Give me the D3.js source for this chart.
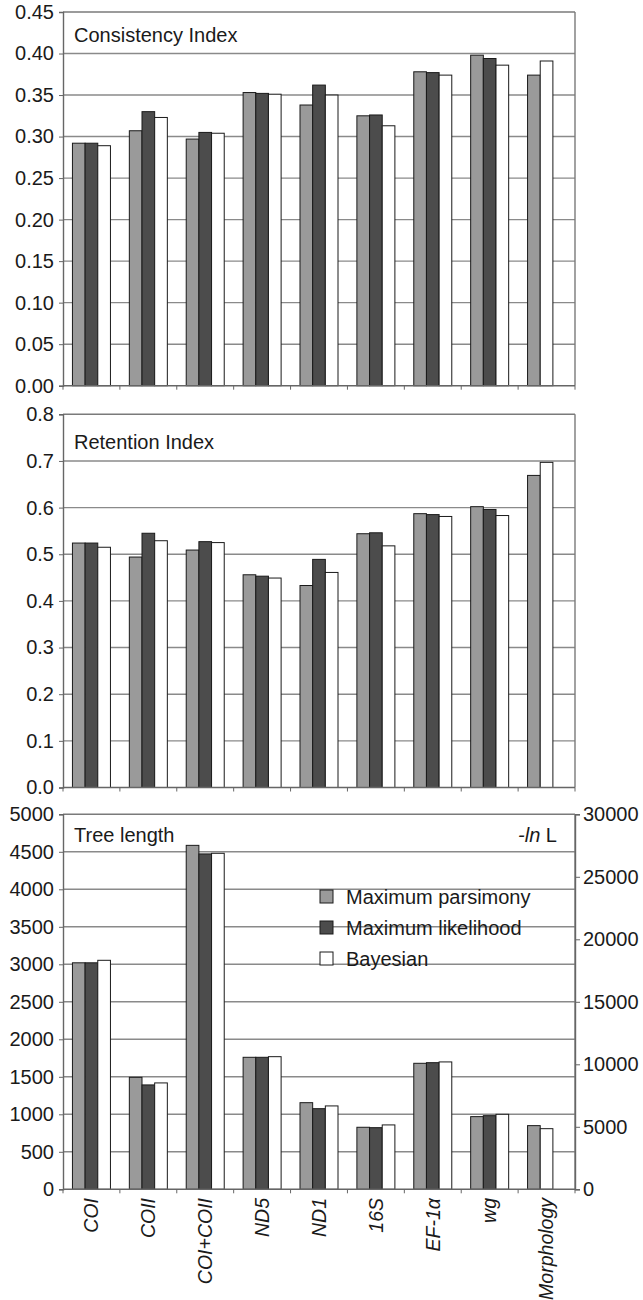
<!DOCTYPE html>
<html>
<head>
<meta charset="utf-8">
<script src="https://cdn.jsdelivr.net/npm/d3@7"></script>
<style>
  body { margin: 0; background: #fff; }
  svg { display: block; font-family: "Liberation Sans", Arial, sans-serif; }
</style>
</head>
<body>
<svg id="chart" width="643" height="1300"></svg>
<script>
// ---------- DATA ----------
const categories = ["COI", "COII", "COI+COII", "ND5", "ND1", "16S", "EF-1\u03b1", "wg", "Morphology"];
const seriesNames = ["Maximum parsimony", "Maximum likelihood", "Bayesian"];

// Consistency Index
const ciMP    = [0.292, 0.307, 0.297, 0.353, 0.338, 0.325, 0.378, 0.398, 0.374];
const ciML    = [0.292, 0.330, 0.305, 0.352, 0.362, 0.326, 0.377, 0.394, null];
const ciBayes = [0.289, 0.323, 0.304, 0.351, 0.350, 0.313, 0.374, 0.386, 0.391];

// Retention Index
const riMP    = [0.524, 0.494, 0.509, 0.456, 0.433, 0.544, 0.587, 0.602, 0.669];
const riML    = [0.524, 0.545, 0.527, 0.453, 0.489, 0.546, 0.585, 0.596, null];
const riBayes = [0.515, 0.529, 0.525, 0.449, 0.461, 0.518, 0.581, 0.583, 0.697];

// Tree length (MP, left axis) and -ln L (ML, Bayesian, right axis)
const tlMP    = [3020, 1493, 4586, 1760, 1155, 827, 1680, 969, 849];
const lnlML   = [18120, 8350, 26830, 10560, 6450, 4930, 10130, 5890, null];
const lnlBayes= [18320, 8510, 26880, 10610, 6670, 5150, 10190, 6000, 4850];

const ciTicks = [0, 0.05, 0.10, 0.15, 0.20, 0.25, 0.30, 0.35, 0.40, 0.45];
const riTicks = [0, 0.1, 0.2, 0.3, 0.4, 0.5, 0.6, 0.7, 0.8];
const tlTicks = [0, 500, 1000, 1500, 2000, 2500, 3000, 3500, 4000, 4500, 5000];
const lnlTicks = [0, 5000, 10000, 15000, 20000, 25000, 30000];

// ---------- STYLE ----------
const fills = ["#9a9a9a", "#4c4c4c", "#ffffff"];
const gridColor = "#8a8a8a";
const frameColor = "#7a7a7a";
const axisColor = "#666";
const fontSize = 20;

const svg = d3.select("#chart");
const left = 63, right = 575;

const x = d3.scaleBand().domain(categories).range([left, right])
  .paddingInner(0.332).paddingOuter(0.166);

function barsFor(vals) {
  // vals: array of arrays per series; place present bars consecutively within group
  const out = [];
  categories.forEach((c, i) => {
    let slot = 0;
    vals.forEach((s, k) => {
      const v = s.values[i];
      if (v != null) {
        out.push({ cat: c, slot: slot, k: k, v: v, scale: s.scale });
        slot++;
      }
    });
  });
  return out;
}
const sub = d3.scaleBand().domain([0, 1, 2]).range([0, x.bandwidth()]);

function panel(opts) {
  const g = svg.append("g");
  const y = opts.y;
  const [y0, y1] = y.range();
  // grid lines
  g.selectAll("line.grid").data(opts.ticks.filter(t => t !== 0 && t !== opts.ticks[opts.ticks.length - 1]))
    .join("line")
    .attr("x1", left).attr("x2", right)
    .attr("y1", d => y(d)).attr("y2", d => y(d))
    .attr("stroke", gridColor).attr("stroke-width", 1.4);
  // frame top and right
  g.append("line").attr("x1", left).attr("x2", right).attr("y1", y1).attr("y2", y1)
    .attr("stroke", frameColor).attr("stroke-width", 1.4);
  g.append("line").attr("x1", right).attr("x2", right).attr("y1", y1).attr("y2", y0)
    .attr("stroke", frameColor).attr("stroke-width", 1.4);

  // bars
  const data = barsFor(opts.series);
  g.selectAll("rect.bar").data(data).join("rect")
    .attr("x", d => x(d.cat) + sub(d.slot))
    .attr("width", sub.bandwidth())
    .attr("y", d => d.scale(d.v))
    .attr("height", d => y0 - d.scale(d.v))
    .attr("fill", d => fills[d.k])
    .attr("stroke", "#1a1a1a").attr("stroke-width", 1);

  // left axis
  const ax = d3.axisLeft(y).tickValues(opts.ticks).tickFormat(opts.fmt).tickSize(4).tickPadding(5);
  const axg = g.append("g").attr("transform", `translate(${left},0)`).call(ax);
  axg.select(".domain").attr("stroke", axisColor).attr("stroke-width", 1.4);
  axg.selectAll(".tick line").attr("stroke", axisColor);
  axg.selectAll("text").attr("font-size", fontSize).attr("fill", "#1a1a1a")
    .attr("font-family", "'Liberation Sans', Arial, sans-serif");

  // bottom axis line with group separator ticks
  g.append("line").attr("x1", left).attr("x2", right).attr("y1", y0).attr("y2", y0)
    .attr("stroke", axisColor).attr("stroke-width", 1.4);
  const sepXs = d3.range(categories.length + 1).map(i => left + i * x.step());
  g.selectAll("line.sep").data(sepXs).join("line")
    .attr("x1", d => d).attr("x2", d => d).attr("y1", y0).attr("y2", y0 + 4)
    .attr("stroke", axisColor).attr("stroke-width", 1);

  // title
  g.append("text").attr("x", 74).attr("y", opts.titleY).attr("font-size", fontSize)
    .attr("fill", "#1a1a1a").text(opts.title);
  return g;
}

const yCI = d3.scaleLinear().domain([0, 0.45]).range([385.7, 12]);
const yRI = d3.scaleLinear().domain([0, 0.8]).range([787.5, 414.3]);
const yTL = d3.scaleLinear().domain([0, 5000]).range([1189.3, 814.3]);
const yLnL = d3.scaleLinear().domain([0, 30000]).range([1189.3, 814.3]);

panel({
  y: yCI, ticks: ciTicks, fmt: d3.format(".2f"), title: "Consistency Index", titleY: 42,
  series: [{ values: ciMP, scale: yCI }, { values: ciML, scale: yCI }, { values: ciBayes, scale: yCI }]
});
panel({
  y: yRI, ticks: riTicks, fmt: d3.format(".1f"), title: "Retention Index", titleY: 449,
  series: [{ values: riMP, scale: yRI }, { values: riML, scale: yRI }, { values: riBayes, scale: yRI }]
});
const p3 = panel({
  y: yTL, ticks: tlTicks, fmt: d3.format("d"), title: "Tree length", titleY: 842,
  series: [{ values: tlMP, scale: yTL }, { values: lnlML, scale: yLnL }, { values: lnlBayes, scale: yLnL }]
});

// right axis for -ln L
const rax = d3.axisRight(yLnL).tickValues(lnlTicks).tickFormat(d3.format("d")).tickSize(5).tickPadding(3);
const raxg = svg.append("g").attr("transform", `translate(${right},0)`).call(rax);
raxg.select(".domain").attr("stroke", axisColor).attr("stroke-width", 1.4);
raxg.selectAll(".tick line").attr("stroke", axisColor);
raxg.selectAll("text").attr("font-size", fontSize).attr("fill", "#1a1a1a")
  .attr("font-family", "'Liberation Sans', Arial, sans-serif");

// -ln L label
const lnl = svg.append("text").attr("x", 557).attr("y", 842).attr("text-anchor", "end")
  .attr("font-size", fontSize).attr("fill", "#1a1a1a");
lnl.append("tspan").attr("font-style", "italic").text("-ln");
lnl.append("tspan").text(" L");

// legend
const leg = svg.append("g");
seriesNames.forEach((n, i) => {
  const yy = 897 + i * 31;
  leg.append("rect").attr("x", 320).attr("y", yy - 7).attr("width", 13).attr("height", 13)
    .attr("fill", fills[i]).attr("stroke", "#1a1a1a").attr("stroke-width", 1);
  leg.append("text").attr("x", 346).attr("y", yy + 7).attr("font-size", fontSize)
    .attr("fill", "#1a1a1a").text(n);
});

// x labels (rotated, italic)
svg.append("g").selectAll("text").data(categories).join("text")
  .attr("transform", d => `translate(${x(d) + x.bandwidth() / 2},1198) rotate(-90)`)
  .attr("text-anchor", "end").attr("dy", "0.35em")
  .attr("font-size", 19.5).attr("font-style", "italic").attr("fill", "#1a1a1a")
  .text(d => d);
</script>
</body>
</html>
